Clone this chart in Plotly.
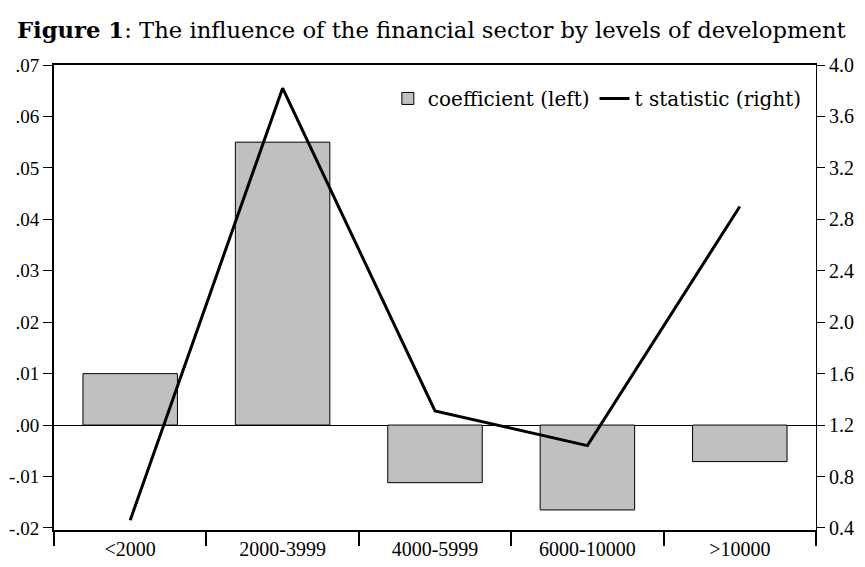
import plotly.graph_objects as go

categories = ["<2000", "2000-3999", "4000-5999", "6000-10000", ">10000"]
coefficient = [0.010, 0.055, -0.0112, -0.0165, -0.0071]
t_statistic = [0.46, 3.82, 1.31, 1.04, 2.90]

left_ticks = [0.07, 0.06, 0.05, 0.04, 0.03, 0.02, 0.01, 0.0, -0.01, -0.02]
left_labels = [".07", ".06", ".05", ".04", ".03", ".02", ".01", ".00", "-.01", "-.02"]
right_ticks = [4.0, 3.6, 3.2, 2.8, 2.4, 2.0, 1.6, 1.2, 0.8, 0.4]
right_labels = ["4.0", "3.6", "3.2", "2.8", "2.4", "2.0", "1.6", "1.2", "0.8", "0.4"]

FONT = "Liberation Serif"
LEG_FONT = "DejaVu Serif"

fig = go.Figure()
fig.add_trace(go.Bar(
    x=categories, y=coefficient, name="coefficient (left)",
    marker=dict(color="#C0C0C0", line=dict(color="black", width=1)),
    width=0.62, yaxis="y",
))
fig.add_trace(go.Scatter(
    x=categories, y=t_statistic, name="t statistic (right)", mode="lines",
    line=dict(color="black", width=3), yaxis="y2",
))

ymin, ymax = -0.0204, 0.07
fig.update_layout(
    width=857, height=559,
    margin=dict(l=46, r=49, t=57, b=37, autoexpand=False),
    paper_bgcolor="white", plot_bgcolor="white",
    font=dict(family=FONT, size=20, color="black"),
    title=dict(
        text="<b>Figure 1</b>: The influence of the financial sector by levels of development",
        x=0.0105, xanchor="left", y=0.961, yanchor="middle",
        font=dict(family=LEG_FONT, size=22.7, color="black"),
    ),
    showlegend=True,
    legend=dict(orientation="h", x=0.988, xanchor="right", y=0.97, yanchor="top",
                bgcolor="rgba(0,0,0,0)", font=dict(family=LEG_FONT, size=20),
                traceorder="normal"),
    xaxis=dict(
        type="category", showline=True, linecolor="black", linewidth=2,
        mirror=True, ticks="outside", tickson="boundaries", ticklen=14,
        tickwidth=2, tickcolor="black", showgrid=False, automargin=False,
        tickfont=dict(size=20),
    ),
    yaxis=dict(
        range=[ymin, ymax], tickvals=left_ticks, ticktext=left_labels,
        showline=True, linecolor="black", linewidth=2, ticks="outside",
        ticklen=9, tickcolor="black", showgrid=False, automargin=False,
        zeroline=True, zerolinecolor="black", zerolinewidth=1,
        tickfont=dict(size=19),
    ),
    yaxis2=dict(
        range=[1.2 + 40 * ymin, 1.2 + 40 * ymax], tickvals=right_ticks,
        ticktext=right_labels, overlaying="y", side="right",
        showline=True, linecolor="black", linewidth=1, ticks="outside",
        ticklen=8, tickcolor="black", showgrid=False, zeroline=False,
        automargin=False, tickfont=dict(size=20),
    ),
)

fig.write_html("out.html")
